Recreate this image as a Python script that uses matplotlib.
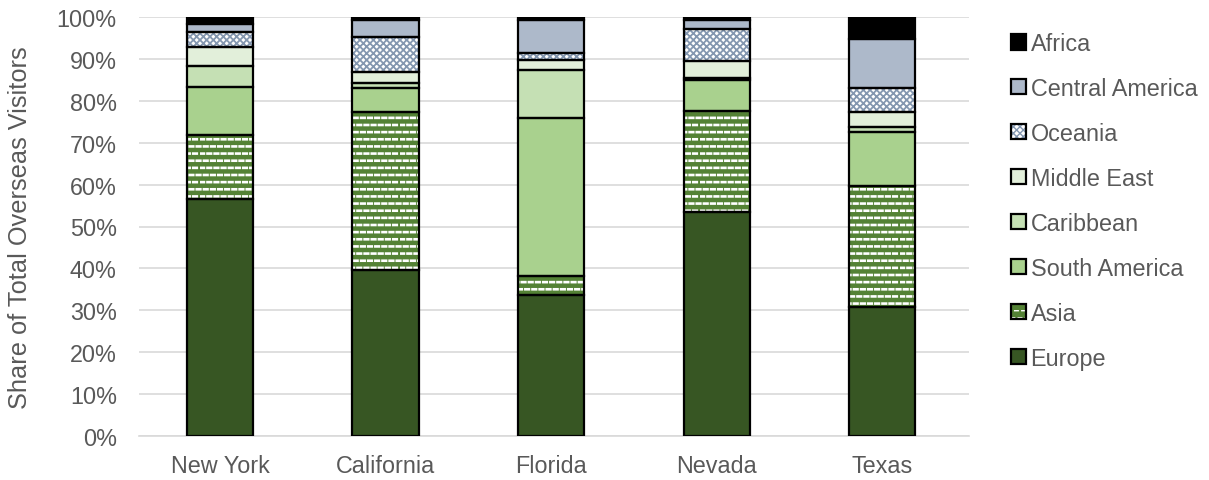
import warnings
warnings.filterwarnings("ignore")
import matplotlib
matplotlib.use("Agg")
import matplotlib.pyplot as plt
import matplotlib.hatch as mhatch
from matplotlib.path import Path
from matplotlib.patches import Patch
from matplotlib.legend_handler import HandlerTuple
import numpy as np

states = ["New York", "California", "Florida", "Nevada", "Texas"]
regions = ["Europe", "Asia", "South America", "Caribbean", "Middle East",
           "Oceania", "Central America", "Africa"]
europe = [56.5, 39.6, 33.7, 53.5, 30.8]
asia = [15.3, 37.7, 4.5, 24.1, 28.9]
south_america = [11.6, 5.8, 37.6, 7.4, 12.8]
caribbean = [5.0, 1.1, 11.6, 0.4, 1.2]
middle_east = [4.5, 2.7, 2.3, 4.2, 3.7]
oceania = [3.6, 8.3, 1.6, 7.5, 5.7]
central_america = [1.8, 4.1, 8.0, 2.2, 11.6]
africa = [1.7, 0.7, 0.7, 0.7, 5.3]
series = [europe, asia, south_america, caribbean, middle_east, oceania,
          central_america, africa]


# custom staggered-dash hatch ('=')
class DashHatch(mhatch.HatchPatternBase):
    def __init__(self, hatch, density):
        k = hatch.count('=')
        self.rows = 14 * k
        self.cols = 14 * k
        segs = []
        if k:
            m = self.cols
            L = 0.5 / m
            for i in range(self.rows):
                y = (i + 0.5) / self.rows
                off = 0.05 / m if i % 2 == 0 else 0.55 / m
                for j in range(m):
                    s = off + j / m
                    e = s + L
                    if e <= 1.0:
                        segs.append((s, e, y))
                    else:
                        segs.append((s, 1.0, y))
                        segs.append((0.0, e - 1.0, y))
        self.segs = segs
        self.num_vertices = 2 * len(segs)

    def set_vertices_and_codes(self, vertices, codes):
        for n, (s, e, y) in enumerate(self.segs):
            vertices[2 * n] = (s, y)
            vertices[2 * n + 1] = (e, y)
            codes[2 * n] = Path.MOVETO
            codes[2 * n + 1] = Path.LINETO


mhatch._hatch_types.append(DashHatch)

faces = ["#375623", "#548235", "#A9D18E", "#C5E0B4", "#E2EFDA",
         "#FFFFFF", "#ADB9CA", "#000000"]
hatches = [None, "=", None, None, None, "xxxxx", None, None]
hatch_cols = [None, "#FFFFFF", None, None, None, "#8497B0", None, None]
hatch_lws = [1.0, 1.9, 1.0, 1.0, 1.0, 1.3, 1.0, 1.0]

plt.rcParams['font.family'] = ['Liberation Sans', 'DejaVu Sans']
txt = "#595959"
fs = 16.8

fig = plt.figure(figsize=(12.09, 4.81), dpi=100)
ax = fig.add_axes([139 / 1209, 1 - 437 / 481, 830 / 1209, 419 / 481])

x = np.arange(len(states))
w = 0.4
bottom = np.zeros(len(states))
for vals, name, fc, h, hc, hl in zip(series, regions, faces, hatches,
                                     hatch_cols, hatch_lws):
    vals = np.array(vals)
    ax.bar(x, vals, w, bottom=bottom, color=fc, edgecolor="none", zorder=2)
    if h:
        with plt.rc_context({'hatch.linewidth': hl}):
            ax.bar(x, vals, w, bottom=bottom, facecolor="none", edgecolor=hc,
                   hatch=h, linewidth=0, zorder=3)
    ax.bar(x, vals, w, bottom=bottom, facecolor="none", edgecolor="black",
           linewidth=1.6, zorder=4)
    bottom += vals

ax.set_xlim(-0.49, 4.525)
ax.set_ylim(0, 100)
ax.set_yticks(np.arange(0, 101, 10))
ax.set_yticklabels([f"{v}%" for v in range(0, 101, 10)])
ax.set_xticks(x)
ax.set_xticklabels(states)
ax.tick_params(axis="both", length=0, labelsize=fs, colors=txt)
ax.tick_params(axis="y", pad=16)
ax.tick_params(axis="x", pad=13)
ax.grid(axis="y", color="#D9D9D9", linewidth=1.2, zorder=0)
for s in ["top", "right", "left"]:
    ax.spines[s].set_visible(False)
ax.spines["bottom"].set_color("#D9D9D9")
ax.spines["bottom"].set_linewidth(1.2)
ax.set_ylabel("Share of Total Overseas Visitors", fontsize=18.3, color=txt)
ax.yaxis.set_label_coords(-(139 - 32) / 830, 0.5)

# legend in reverse order (Africa at top)
leg_handles = []
for fc, h, hc, hl in zip(faces, hatches, hatch_cols, hatch_lws):
    parts = [Patch(facecolor=fc, edgecolor="none")]
    if h:
        with plt.rc_context({'hatch.linewidth': hl}):
            parts.append(Patch(facecolor="none", edgecolor=hc, hatch=h,
                               linewidth=0))
    parts.append(Patch(facecolor="none", edgecolor="black", linewidth=1.6))
    leg_handles.append(tuple(parts))
leg = fig.legend(leg_handles[::-1], regions[::-1], loc="upper left",
                 bbox_to_anchor=(1011 / 1209, 1 - 33 / 481), frameon=False,
                 fontsize=fs, handlelength=0.64, handleheight=0.64,
                 handletextpad=0.2, labelspacing=0.94, labelcolor=txt,
                 borderpad=0, borderaxespad=0,
                 handler_map={tuple: HandlerTuple(ndivide=1, pad=0)})

fig.savefig("out.png", dpi=100)
